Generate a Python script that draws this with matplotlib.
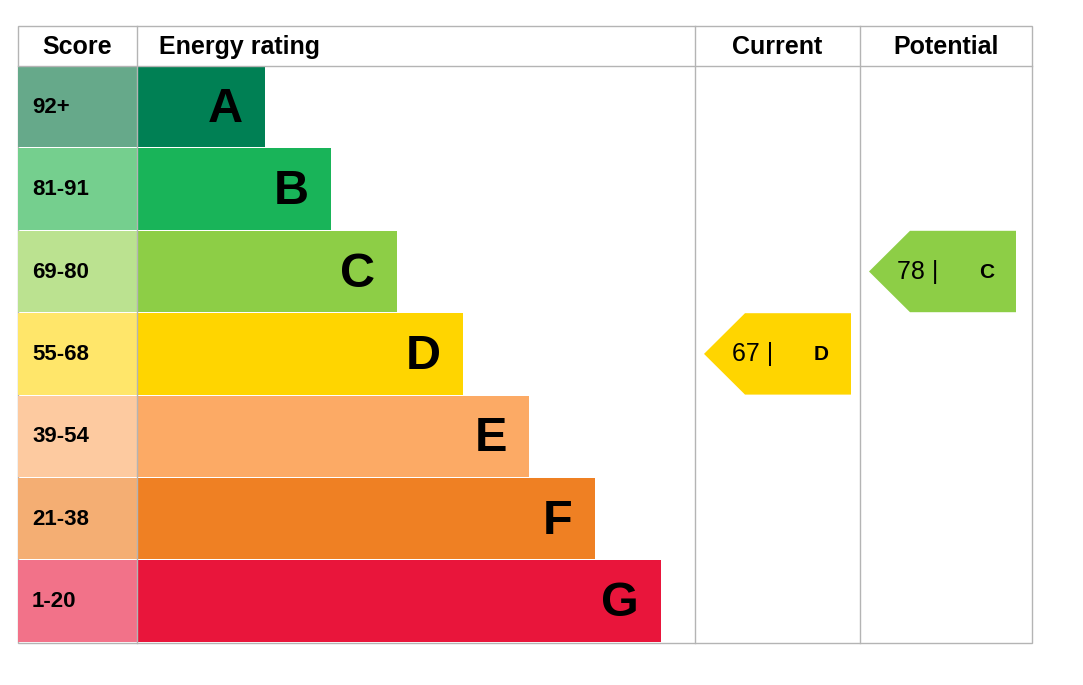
import matplotlib
matplotlib.use("Agg")
import matplotlib.pyplot as plt
from matplotlib.patches import Polygon, Rectangle

bands = ["A", "B", "C", "D", "E", "F", "G"]
scores = ["92+", "81-91", "69-80", "55-68", "39-54", "21-38", "1-20"]
band_min = [92, 81, 69, 55, 39, 21, 1]
colors = ["#008054", "#19b459", "#8dce46", "#ffd500", "#fcaa65", "#ef8023", "#e9153b"]
light = ["#66a98a", "#75cf8e", "#bbe290", "#ffe66a", "#fdcaa0", "#f4ae73", "#f27289"]
current = 67
potential = 78

plt.rcParams['font.family'] = ['Liberation Sans', 'DejaVu Sans']
fig = plt.figure(figsize=(10.83, 6.85), dpi=100)
ax = fig.add_axes([0, 0, 1, 1])
ax.set_xlim(0, 1083); ax.set_ylim(685, 0); ax.axis('off')

L, R, T, H = 18, 1032, 26, 66
c_score, c_en, c_cur, c_pot = 137, 695, 860, 1032
rh = 82.4
bottom = H + rh * len(bands)
grey = "#b4b4b4"
ax.add_patch(Rectangle((L, T), R - L, bottom - T, fill=False, ec=grey, lw=1))
ax.plot([L, R], [H, H], color=grey, lw=1)
for x in (c_score, c_en, c_cur):
    ax.plot([x, x], [T, bottom], color=grey, lw=1)
hy = (T + H) / 2 + 1
kw = dict(fontsize=18, fontweight='bold', va='center')
ax.text(L + 59, hy, "Score", ha='center', **kw)
ax.text(c_score + 22, hy, "Energy rating", ha='left', **kw)
ax.text((c_en + c_cur) / 2, hy, "Current", ha='center', **kw)
ax.text((c_cur + c_pot) / 2, hy, "Potential", ha='center', **kw)

for i, b in enumerate(bands):
    y0 = H + i * rh
    ax.add_patch(Rectangle((L, y0), c_score - L, rh - 1, color=light[i], lw=0))
    ax.text(L + 14, y0 + rh / 2, scores[i], fontsize=16, fontweight='bold', va='center')
    xr = 265 + 66 * i
    ax.add_patch(Rectangle((c_score, y0), xr - c_score, rh - 1, color=colors[i], lw=0))
    ax.text(xr - 22, y0 + rh / 2 + 2, b, fontsize=35, fontweight='bold', ha='right', va='center')

def band_of(v):
    for i, m in enumerate(band_min):
        if v >= m:
            return i
    return len(bands) - 1

def arrow(v, tip, right):
    i = band_of(v)
    y0 = H + i * rh; y1 = y0 + rh - 1; ym = (y0 + y1) / 2
    ax.add_patch(Polygon([(tip, ym), (tip + 41, y0), (right, y0), (right, y1), (tip + 41, y1)],
                         closed=True, color=colors[i], lw=0))
    ax.text(tip + 28, ym, f"{v} | ", fontsize=18, va='center', ha='left')
    ax.text(tip + 110, ym + 1, bands[i], fontsize=15, fontweight='bold', va='center', ha='left')

arrow(current, 704, 851)
arrow(potential, 869, 1016)
fig.savefig("out.png", dpi=100)
